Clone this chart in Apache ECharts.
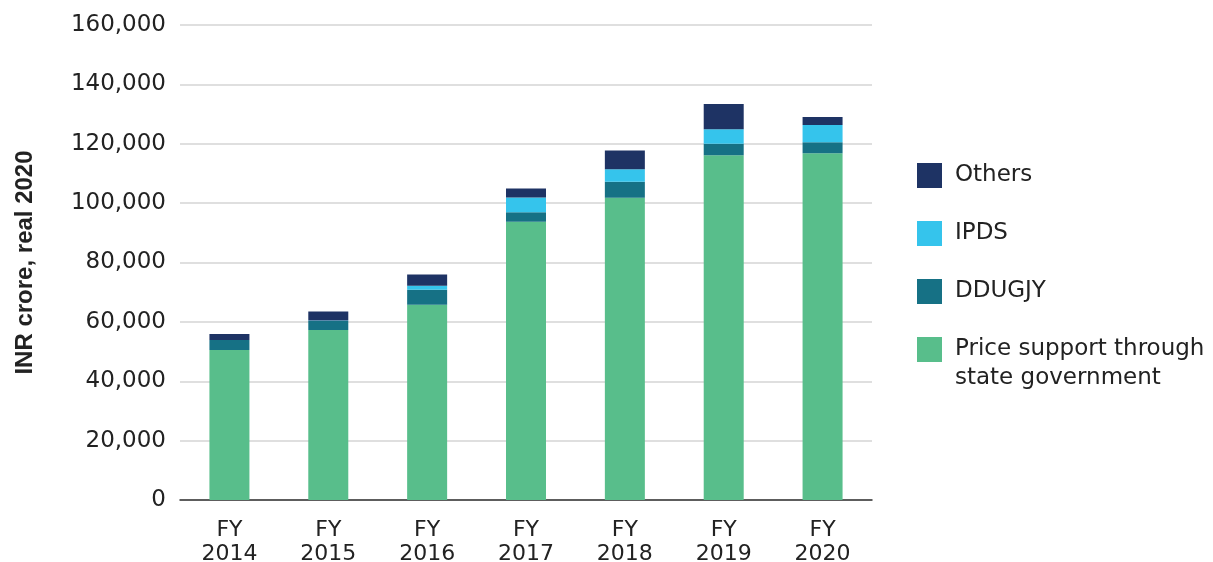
<!DOCTYPE html>
<html>
<head>
<meta charset="utf-8">
<script src="https://cdn.jsdelivr.net/npm/echarts@6/dist/echarts.min.js"></script>
<style>
  html, body { margin: 0; padding: 0; background: #fff; }
  #chart { width: 1213px; height: 562px; }
</style>
</head>
<body>
<div id="chart"></div>
<script>
// 数据
var years = ['FY\n2014', 'FY\n2015', 'FY\n2016', 'FY\n2017', 'FY\n2018', 'FY\n2019', 'FY\n2020'];
var priceSupport = [50500, 57300, 65800, 93700, 101800, 116100, 116800];
var ddugjy = [3400, 3000, 5000, 3200, 5400, 3900, 3700];
var ipds = [0, 200, 1400, 5000, 4200, 4900, 5800];
var others = [2000, 3000, 3800, 3000, 6300, 8500, 2700];

var priceName = 'Price support through\nstate government';
var chart = echarts.init(document.getElementById('chart'));
var font = 'DejaVu Sans';

function bar(name, data, color) {
    return {
        name: name,
        type: 'bar',
        stack: 'total',
        barWidth: 40,
        data: data,
        itemStyle: { color: color },
        emphasis: { disabled: true }
    };
}

var legendBase = {
    orient: 'vertical',
    left: 917,
    padding: 0,
    itemWidth: 25,
    itemHeight: 25,
    itemGap: 33,
    icon: 'rect',
    selectedMode: false,
    textStyle: { fontFamily: font, fontSize: 23, color: '#222', lineHeight: 25, padding: [0, 0, 0, 8] }
};

var option = {
    animation: false,
    grid: { left: 180, right: 341, top: 25, bottom: 62, outerBoundsMode: 'none' },
    legend: [
        Object.assign({}, legendBase, { top: 163, data: ['Others', 'IPDS', 'DDUGJY'] }),
        // 多行图例: 用一个空行让首行和色块对齐
        Object.assign({}, legendBase, {
            top: 306,
            data: [priceName],
            textStyle: { fontFamily: font, fontSize: 23, color: '#222', lineHeight: 29, padding: [0, 0, 0, 8] },
            formatter: function (name) { return '\n' + name; }
        })
    ],
    xAxis: {
        type: 'category',
        data: years,
        axisLine: { lineStyle: { color: '#333', width: 1.5 } },
        axisTick: { show: false },
        axisLabel: { fontFamily: font, fontSize: 22, color: '#222', lineHeight: 24, margin: 18 }
    },
    yAxis: {
        type: 'value',
        min: 0,
        max: 160000,
        interval: 20000,
        name: 'INR crore, real 2020',
        nameLocation: 'middle',
        nameGap: 143,
        nameTextStyle: { fontFamily: 'Liberation Sans', fontWeight: 'bold', fontSize: 24, color: '#222' },
        axisLine: { show: false },
        axisTick: { show: false },
        splitLine: { lineStyle: { color: '#d4d4d4', width: 1.5 } },
        axisLabel: {
            fontFamily: font, fontSize: 23, color: '#222', margin: 14,
            formatter: function (v) { return v.toLocaleString('en-US'); }
        }
    },
    series: [
        bar(priceName, priceSupport, '#58be8b'),
        bar('DDUGJY', ddugjy, '#167185'),
        bar('IPDS', ipds, '#35c4ec'),
        bar('Others', others, '#1e3364')
    ]
};
chart.setOption(option);
</script>
</body>
</html>
